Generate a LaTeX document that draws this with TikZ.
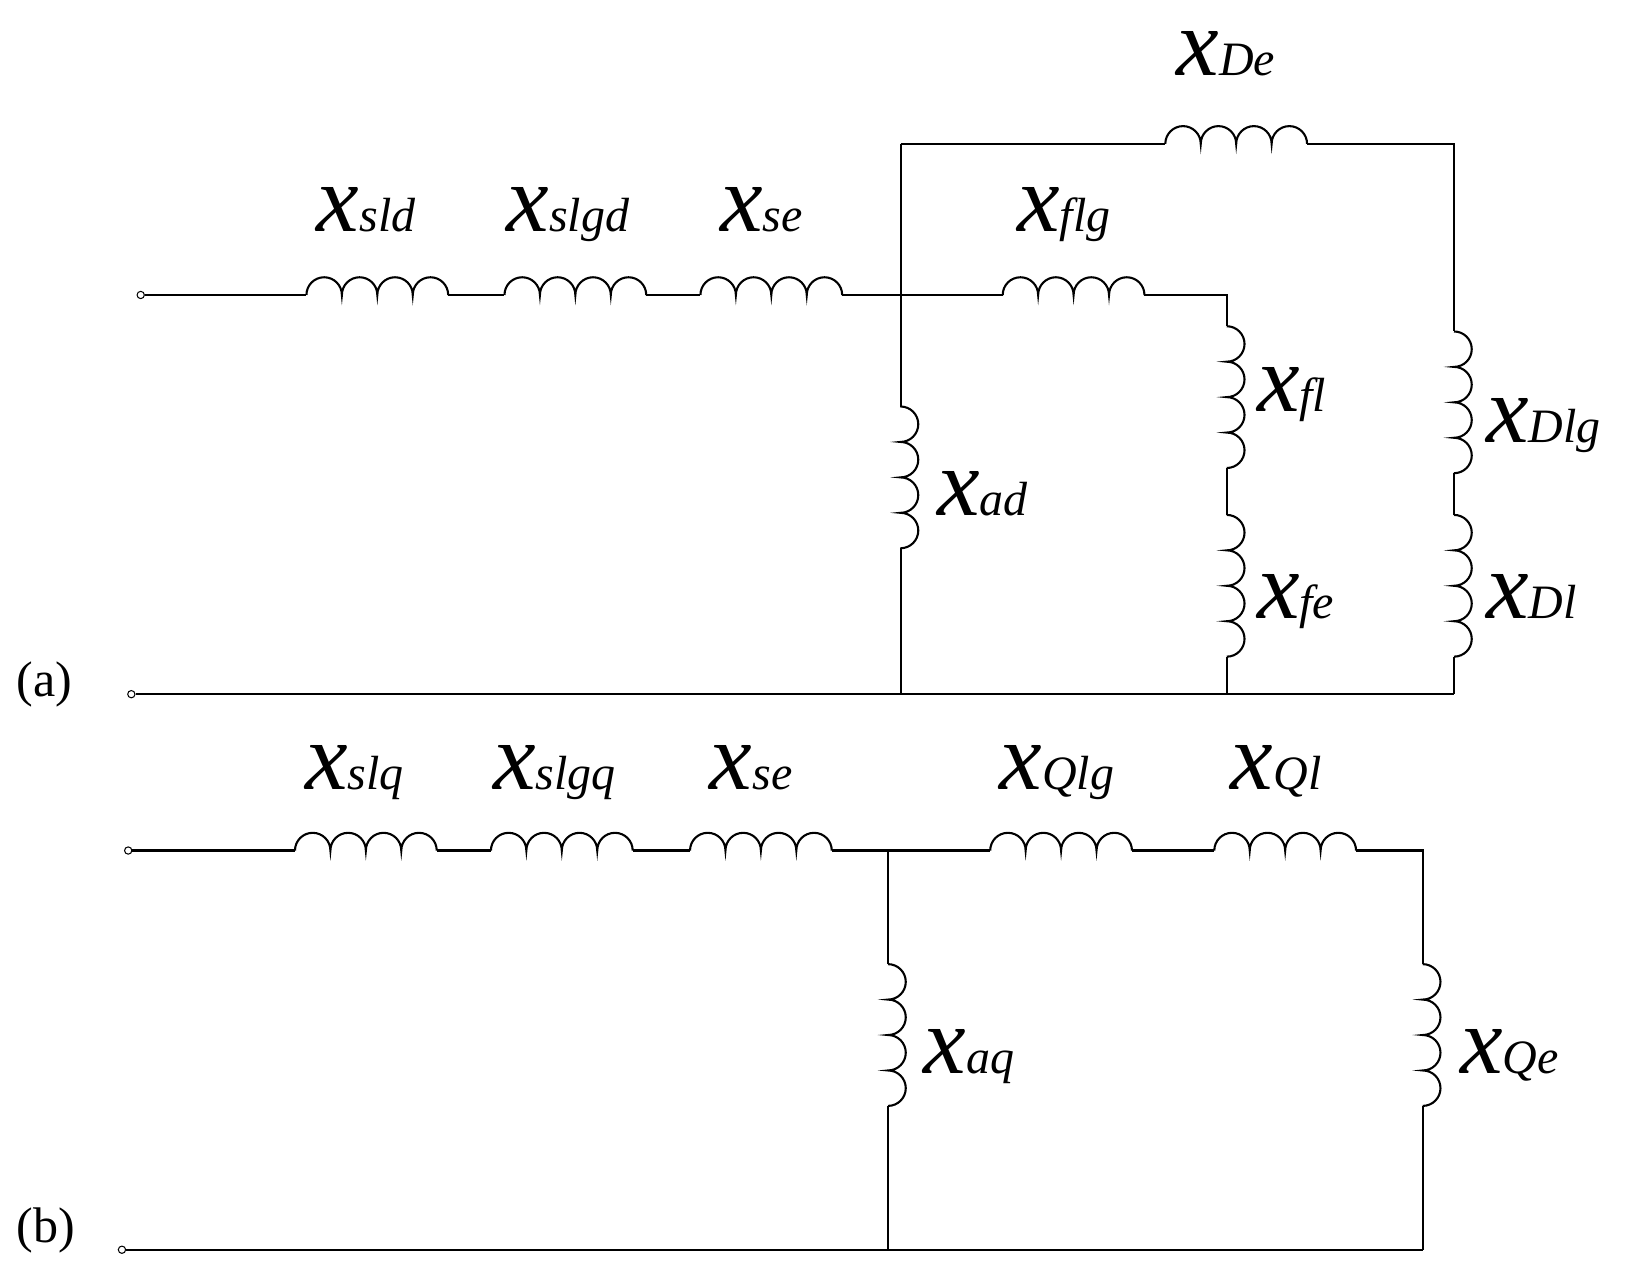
\documentclass[tikz,border=0pt]{standalone}
\usepackage{fontspec}
\setmainfont{Liberation Serif}
\begin{document}
\begin{tikzpicture}[x=1pt,y=-1pt,line width=2pt,
  term/.style={circle,draw,line width=1pt,fill=white,inner sep=0pt,minimum size=7pt},
  lbl/.style={inner sep=0pt,anchor=base west},
  hc/.pic={\draw (0,0) arc[start angle=180,end angle=360,radius=17] arc[start angle=180,end angle=360,radius=17] arc[start angle=180,end angle=360,radius=17] arc[start angle=180,end angle=360,radius=17];},
  vc/.pic={\draw (0,0) arc[start angle=270,end angle=450,radius=17] arc[start angle=270,end angle=450,radius=17] arc[start angle=270,end angle=450,radius=17] arc[start angle=270,end angle=450,radius=17];}]
\newcommand{\lab}[1]{{\fontsize{92}{92}\selectfont\itshape x}{\fontsize{46}{46}\selectfont\itshape #1}}
\useasboundingbox (0,0) rectangle (1560,1226);
% (a)
\node[term] (ta1) at (135,283) {};
\node[term] (ta2) at (126,666) {};
\foreach \n/\x in {sld/294,slgd/484,se/672,flg/962}{
  \coordinate (\n L) at (\x,283); \coordinate (\n R) at (\x+136,283); \pic at (\n L) {hc};}
\coordinate (DeL) at (1118,138); \coordinate (DeR) at (1254,138); \pic at (DeL) {hc};
\coordinate (adT) at (864,390); \coordinate (adB) at (864,526); \pic at (adT) {vc};
\coordinate (flT) at (1177,313); \coordinate (flB) at (1177,449); \pic at (flT) {vc};
\coordinate (feT) at (1177,494); \coordinate (feB) at (1177,630); \pic at (feT) {vc};
\coordinate (DlgT) at (1395,318); \coordinate (DlgB) at (1395,454); \pic at (DlgT) {vc};
\coordinate (DlT) at (1395,494); \coordinate (DlB) at (1395,630); \pic at (DlT) {vc};
\coordinate (ja) at (864,283); \coordinate (jt) at (864,138); \coordinate (jb) at (864,666);
\coordinate (fc) at (1177,283); \coordinate (fb) at (1177,666);
\coordinate (dc) at (1395,138); \coordinate (db) at (1395,666);
\draw (ta1) -- (sldL) (sldR) -- (slgdL) (slgdR) -- (seL) (seR) -- (flgL)
  (flgR) -- (fc) -- (flT) (flB) -- (feT) (feB) -- (fb);
\draw (jt) -- (adT) (adB) -- (jb);
\draw (jt) -- (DeL) (DeR) -- (dc) -- (DlgT) (DlgB) -- (DlT) (DlB) -- (db);
\draw (ta2) -- (db);
\node[lbl] at (303,222) {\lab{sld}};
\node[lbl] at (485,222) {\lab{slgd}};
\node[lbl] at (690,222) {\lab{se}};
\node[lbl] at (975,222) {\lab{flg}};
\node[lbl] at (1128,72) {\lab{De}};
\node[lbl] at (1205,395) {\lab{fl}};
\node[lbl] at (1425,425) {\lab{Dlg}};
\node[lbl] at (898,495) {\lab{ad}};
\node[lbl] at (1205,593) {\lab{fe}};
\node[lbl] at (1425,593) {\lab{Dl}};
\node[lbl,font=\fontsize{48}{48}\selectfont] at (15,668) {(a)};
% (b)
\node[term] (tb1) at (123,816) {};
\node[term] (tb2) at (117,1199) {};
\foreach \n/\x in {slq/283,slgq/471,seb/662,Qlg/950,Ql/1165}{
  \coordinate (\n L) at (\x,816); \coordinate (\n R) at (\x+136,816); \pic at (\n L) {hc};}
\coordinate (aqT) at (852,925); \coordinate (aqB) at (852,1061); \pic at (aqT) {vc};
\coordinate (QeT) at (1365,925); \coordinate (QeB) at (1365,1061); \pic at (QeT) {vc};
\coordinate (jq) at (852,816); \coordinate (jqb) at (852,1199);
\coordinate (qc) at (1365,816); \coordinate (qb) at (1365,1199);
\draw (tb1) -- (slqL) (slqR) -- (slgqL) (slgqR) -- (sebL) (sebR) -- (QlgL)
  (QlgR) -- (QlL) (QlR) -- (qc) -- (QeT) (QeB) -- (qb);
\draw (jq) -- (aqT) (aqB) -- (jqb);
\draw (tb2) -- (qb);
\node[lbl] at (292,757) {\lab{slq}};
\node[lbl] at (472,757) {\lab{slgq}};
\node[lbl] at (680,757) {\lab{se}};
\node[lbl] at (958,757) {\lab{Qlg}};
\node[lbl] at (1180,757) {\lab{Ql}};
\node[lbl] at (885,1030) {\lab{aq}};
\node[lbl] at (1400,1030) {\lab{Qe}};
\node[lbl,font=\fontsize{48}{48}\selectfont] at (15,1192) {(b)};
\end{tikzpicture}
\end{document}
